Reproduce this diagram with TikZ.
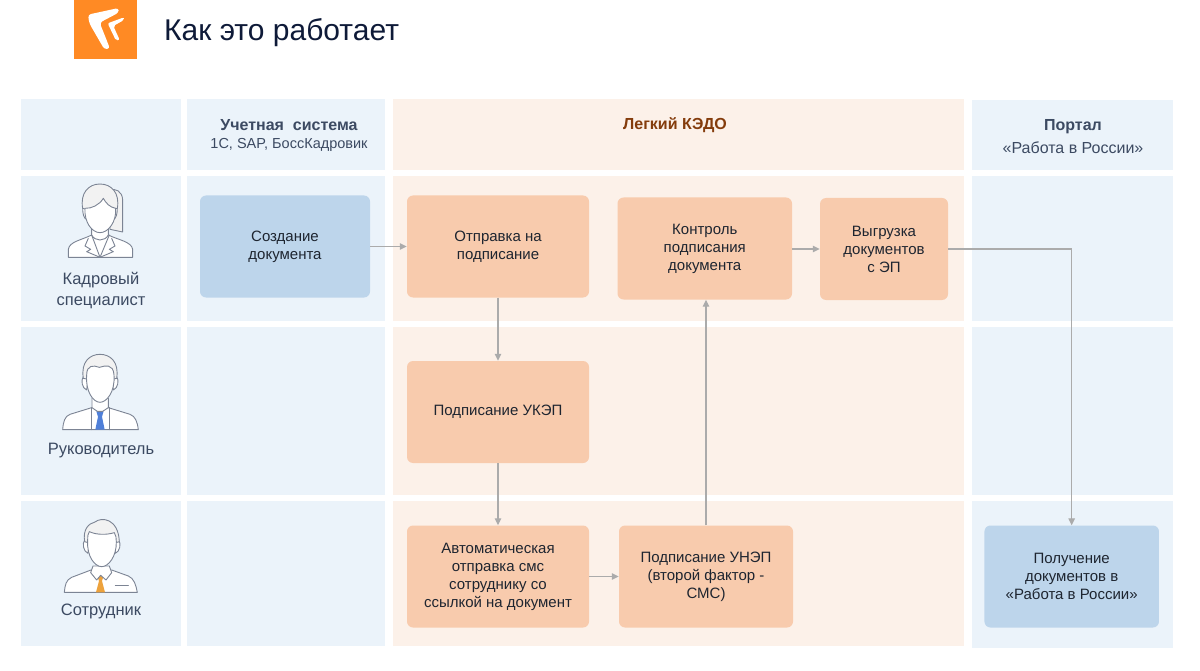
\documentclass[tikz,border=0pt]{standalone}
\usepackage{fontspec}
\setmainfont{Liberation Sans}
\usetikzlibrary{arrows.meta}
\definecolor{cellblue}{HTML}{EBF3FA}
\definecolor{cellorange}{HTML}{FCF1E9}
\definecolor{boxorange}{HTML}{F8CBAD}
\definecolor{boxblue}{HTML}{BDD5EB}
\definecolor{logoorange}{HTML}{FF8A24}
\definecolor{linegrey}{HTML}{ABABAB}
\definecolor{labeltxt}{HTML}{3C4A62}
\definecolor{boxtxt}{HTML}{1E2530}
\definecolor{titletxt}{HTML}{0E1A38}
\definecolor{brown}{HTML}{843C0C}
\definecolor{iconline}{HTML}{7C8494}
\definecolor{hair}{HTML}{F2F2F2}
\definecolor{tieblue}{HTML}{4F7FD8}
\definecolor{tieorange}{HTML}{EDA23C}
\tikzset{
  cb/.style={fill=cellblue,draw=none},
  co/.style={fill=cellorange,draw=none},
  bxo/.style={fill=boxorange,rounded corners=6pt,inner sep=0pt,align=center,text=boxtxt,font=\fontsize{15}{18}\selectfont},
  bxb/.style={fill=boxblue,rounded corners=6pt,inner sep=0pt,align=center,text=boxtxt,font=\fontsize{15}{18}\selectfont},
  flow/.style={draw=linegrey,line width=1.3pt,-{Triangle[length=7pt,width=6.5pt]}},
  lbl/.style={inner sep=0pt,align=center,text=labeltxt,font=\fontsize{16.5}{21}\selectfont},
  ico/.style={draw=iconline,line width=0.9pt,line join=round,line cap=round},
}
\begin{document}
\begin{tikzpicture}[x=1pt,y=-1pt]
\useasboundingbox (0,0) rectangle (1200,671);
% grid cells
\path[cb] (21,99) rectangle (181,170);
\path[cb] (187,99) rectangle (385,170);
\path[co] (393,99) rectangle (964,170);
\path[cb] (972,100.5) rectangle (1173,170);
\path[cb] (21,176) rectangle (181,321);
\path[cb] (187,176) rectangle (385,321);
\path[co] (393,176) rectangle (964,321);
\path[cb] (972,176) rectangle (1173,321);
\path[cb] (21,327) rectangle (181,495);
\path[cb] (187,327) rectangle (385,495);
\path[co] (393,327) rectangle (964,495);
\path[cb] (972,327) rectangle (1173,495);
\path[cb] (21,501) rectangle (181,646);
\path[cb] (187,501) rectangle (385,646);
\path[co] (393,501) rectangle (964,646);
\path[cb] (972,501) rectangle (1173,648);
% logo
\path[fill=logoorange] (74,0) rectangle (137,59);
\begin{scope}[shift={(60,0)},x=0.3333pt,y=-0.3333pt]
\path[fill=white,rounded corners=3pt] (176,24) -- (84,44) -- (88,70) -- (133,148) -- (150,146) -- (119,68) -- (176,38) -- cycle;
\path[fill=white,rounded corners=2pt] (192,52) -- (143,70) -- (168,122) -- (179,120) -- (160,78) -- (192,60) -- cycle;
\end{scope}
\node[anchor=west,inner sep=0pt,text=titletxt,font=\fontsize{30}{36}\selectfont] (title) at (164,33) {Как это работает};
% woman
\begin{scope}[shift={(60,170)},x=0.3333pt,y=-0.3333pt]
\draw[ico,fill=hair] (150,60) .. controls (165,55) and (187,62) .. (188,90) -- (188,186) -- (150,178) -- cycle;
\draw[ico,fill=white] (25,262) -- (25,238) .. controls (28,215) and (65,210) .. (95,195) -- (145,195) .. controls (175,210) and (215,215) .. (218,238) -- (218,262) -- cycle;
\draw[ico,fill=white] (95,160) -- (95,195) .. controls (105,215) and (135,215) .. (145,195) -- (145,160);
\draw[ico] (95,195) -- (120,262) -- (148,195);
\draw[ico] (85,205) -- (75,228) -- (92,238) -- (80,245) -- (120,262) -- (160,245) -- (148,238) -- (165,228) -- (155,205);
\draw[ico,fill=white] (68,112) -- (76,112) -- (82,150) .. controls (70,145) and (68,130) .. (68,112);
\draw[ico,fill=white] (172,112) -- (164,112) -- (158,150) .. controls (170,145) and (172,130) .. (172,112);
\draw[ico,fill=hair] (68,115) .. controls (60,70) and (85,42) .. (120,42) .. controls (155,42) and (180,70) .. (172,115) -- (120,130) -- cycle;
\draw[ico,fill=white] (75,115) .. controls (95,116) and (118,105) .. (130,85) .. controls (138,100) and (150,112) .. (167,115) .. controls (170,155) and (145,188) .. (120,188) .. controls (95,188) and (72,155) .. (75,115) -- cycle;
\end{scope}
% manager
\begin{scope}[shift={(60,345)},x=0.3333pt,y=-0.3333pt]
\draw[ico,fill=white] (8,254) .. controls (10,230) and (14,214) .. (30,208) -- (95,188) -- (145,188) -- (210,208) .. controls (226,214) and (232,230) .. (235,254) -- cycle;
\draw[ico] (93,188) -- (93,254);
\draw[ico] (147,188) -- (147,254);
\path[fill=tieblue] (109,199) -- (131,199) -- (126,215) -- (134,254) -- (106,254) -- (114,215) -- cycle;
\draw[ico,fill=white] (96,160) -- (96,188) -- (112,199) -- (128,199) -- (145,188) -- (145,160);
\draw[ico,fill=white] (70,95) .. controls (62,105) and (66,130) .. (80,135) -- (85,100) -- cycle;
\draw[ico,fill=white] (170,95) .. controls (178,105) and (174,130) .. (160,135) -- (155,100) -- cycle;
\draw[ico,fill=hair] (70,100) .. controls (62,50) and (90,28) .. (120,28) .. controls (150,28) and (178,50) .. (170,100) -- (120,110) -- cycle;
\draw[ico,fill=white] (80,90) .. controls (80,60) and (100,60) .. (118,67) .. controls (135,62) and (160,55) .. (162,90) .. controls (166,140) and (140,172) .. (120,172) .. controls (100,172) and (76,140) .. (80,90) -- cycle;
\end{scope}
% employee
\begin{scope}[shift={(60,510)},x=0.3333pt,y=-0.3333pt]
\draw[ico,fill=white] (13,247) .. controls (15,225) and (18,210) .. (35,202) -- (93,180) -- (155,180) -- (205,198) .. controls (222,205) and (228,225) .. (232,247) -- cycle;
\path[fill=tieorange] (112,198) -- (131,198) -- (126,213) -- (135,247) -- (108,247) -- (117,213) -- cycle;
\draw[ico] (166,227) -- (205,227);
\draw[ico,fill=white] (99,168) -- (92,188) -- (110,210) -- (122,196) -- (138,210) -- (155,188) -- (148,168) -- cycle;
\draw[ico,fill=white] (74,90) .. controls (66,100) and (70,125) .. (84,130) -- (88,95) -- cycle;
\draw[ico,fill=white] (176,90) .. controls (184,100) and (180,125) .. (166,130) -- (162,95) -- cycle;
\draw[ico,fill=hair] (74,95) .. controls (68,60) and (85,40) .. (105,36) .. controls (125,20) and (175,25) .. (178,95) -- (125,110) -- cycle;
\draw[ico,fill=white] (83,92) .. controls (83,78) and (84,70) .. (88,65) .. controls (110,75) and (140,75) .. (163,68) .. controls (168,75) and (169,85) .. (169,95) .. controls (170,140) and (145,170) .. (125,170) .. controls (105,170) and (80,140) .. (83,92) -- cycle;
\end{scope}
% column 1 labels
\node[lbl] (hr) at (101,290.5) {Кадровый\\специалист};
\node[lbl] (mgr) at (101,451) {Руководитель};
\node[lbl] (emp) at (101,611) {Сотрудник};
% headers
\node[inner sep=0pt,text=labeltxt,font=\fontsize{16}{20}\bfseries\selectfont] (h1a) at (289,125) {Учетная\ \ система};
\node[inner sep=0pt,text=labeltxt,font=\fontsize{14.5}{18}\selectfont] (h1b) at (289,145) {1С, SAP, БоссКадровик};
\node[inner sep=0pt,text=brown,font=\fontsize{16}{20}\bfseries\selectfont] (h2) at (675,125) {Легкий КЭДО};
\node[inner sep=0pt,text=labeltxt,font=\fontsize{16}{20}\bfseries\selectfont] (h3a) at (1073,127) {Портал};
\node[inner sep=0pt,text=labeltxt,font=\fontsize{16}{20}\selectfont] (h3b) at (1073,148) {«Работа в России»};
% boxes
\node[bxb,minimum width=170pt,minimum height=102pt] (create) at (285,246.5) {Создание\\документа};
\node[bxo,minimum width=182pt,minimum height=102pt] (send) at (498,246.5) {Отправка на\\подписание};
\node[bxo,minimum width=174.5pt,minimum height=102pt] (ctrl) at (704.75,248.5) {Контроль\\подписания\\документа};
\node[bxo,minimum width=128pt,minimum height=102pt] (exp) at (884,249) {Выгрузка\\документов\\с ЭП};
\node[bxo,minimum width=182pt,minimum height=102pt] (ukep) at (498,412) {Подписание УКЭП};
\node[bxo,minimum width=182pt,minimum height=102pt] (auto) at (498,576.5) {Автоматическая\\отправка смс\\сотруднику со\\ссылкой на документ};
\node[bxo,minimum width=174pt,minimum height=102pt] (unep) at (706,576.5) {Подписание УНЭП\\(второй фактор -\\СМС)};
\node[bxb,minimum width=174.5pt,minimum height=102pt] (recv) at (1071.7,576.5) {Получение\\документов в\\«Работа в России»};
% connectors
\draw[flow] (create) -- (send);
\draw[flow] (send) -- (ukep);
\draw[flow] (ukep) -- (auto);
\draw[flow] (auto) -- (unep);
\draw[flow] (unep.north) -- (unep.north |- ctrl.south);
\draw[flow] (ctrl.east |- exp.west) -- (exp.west);
\draw[flow] (exp.east) -| (recv.north);
\end{tikzpicture}
\end{document}
